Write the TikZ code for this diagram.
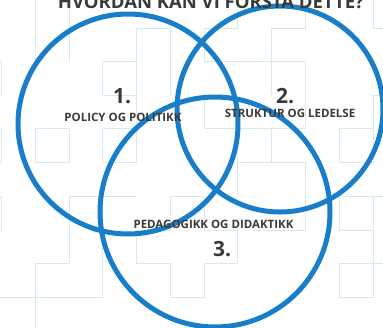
\documentclass[tikz,border=0pt]{standalone}
\usepackage{fontspec}
\setmainfont{Open Sans}
\definecolor{ringblue}{RGB}{24,126,202}
\definecolor{gridteal}{RGB}{212,235,235}
\definecolor{txtgray}{RGB}{58,58,58}
\tikzset{
  ring/.style={draw=ringblue, line width=5pt},
  gridline/.style={draw=gridteal, line width=1pt},
  numlabel/.style={text=txtgray, font=\fontsize{21}{21}\selectfont\bfseries, inner sep=0pt},
  toplabel/.style={text=txtgray, font=\fontsize{11.5}{11.5}\selectfont\bfseries, inner sep=0pt},
  titlelabel/.style={text=txtgray, font=\fontsize{18.5}{18.5}\selectfont\bfseries, inner sep=0pt}
}
\begin{document}
\begin{tikzpicture}[x=1pt, y=-1pt]
\useasboundingbox (0,0) rectangle (383,327);
\clip (0,0) rectangle (383,327);
\fill[white] (0,0) rectangle (383,327);
% background pattern
\draw[gridline] (35,0) -- (35,61.5);
\draw[gridline] (69,0) -- (69,61.5);
\draw[gridline] (0,61.5) -- (1.5,61.5) -- (1.5,95) -- (0,95);
\draw[gridline] (0,128.5) -- (1.5,128.5) -- (1.5,162) -- (0,162);
\draw[gridline] (0,196.5) -- (1.5,196.5) -- (1.5,230) -- (0,230);
\draw[gridline] (102.5,61.5) -- (136.5,61.5) -- (136.5,28) -- (170,28) -- (170,95);
\draw[gridline] (102.5,61.5) -- (102.5,95) -- (136.5,95) -- (136.5,61.5);
\draw[gridline] (237.5,0) -- (237.5,28) -- (204,28) -- (204,61.5) -- (305,61.5);
\draw[gridline] (305,0) -- (305,28) -- (271,28) -- (271,95);
\draw[gridline] (204,95) -- (204,128.5) -- (305,128.5) -- (305,61.5);
\draw[gridline] (373,0) -- (373,28) -- (383,28);
\draw[gridline] (383,95) -- (373,95) -- (373,128.5);
\draw[gridline] (339,128.5) rectangle (373,162);
\draw[gridline] (237.5,128.5) rectangle (271,162);
\draw[gridline] (237.5,196.5) -- (237.5,162) -- (305,162) -- (305,230) -- (253,230);
\draw[gridline] (339,196.5) rectangle (373,230);
\draw[gridline] (339,196.5) -- (383,196.5);
\draw[gridline] (373,230) -- (373,297.5);
\draw[gridline] (339,263.5) rectangle (373,297.5);
\draw[gridline] (373,263.5) -- (383,263.5);
\draw[gridline] (35,128.5) rectangle (69,162);
\draw[gridline] (102.5,128.5) rectangle (136.5,162);
\draw[gridline] (136.5,95) -- (136.5,128.5);
\draw[gridline] (136.5,196.5) -- (69,196.5) -- (69,263.5) -- (35,263.5) -- (35,327);
\draw[gridline] (0,297.5) -- (102.5,297.5) -- (102.5,196.5);
\draw[gridline] (170,196.5) -- (204,196.5) -- (204,230) -- (237.5,230) -- (237.5,263.5) -- (204,263.5) -- (204,297.5) -- (170,297.5) -- (170,263.5) -- (136.5,263.5) -- (136.5,230) -- (170,230) -- cycle;
% circles
\coordinate (c1) at (128,124);
\coordinate (c2) at (280,109);
\coordinate (c3) at (215,212);
\draw[ring] (c1) circle[radius=110];
\draw[ring] (c2) circle[radius=103];
\draw[ring] (c3) circle[radius=115];
% texts
\node[titlelabel, anchor=base] (title) at (211,8) {HVORDAN KAN VI FORSTÅ DETTE?};
\node[numlabel] (n1) at (122,96) {1.};
\node[toplabel] (l1) at (123,117) {POLICY OG POLITIKK};
\node[numlabel] (n2) at (285,96) {2.};
\node[toplabel] (l2) at (290,113) {STRUKTUR OG LEDELSE};
\node[toplabel] (l3) at (213.5,224) {PEDAGOGIKK OG DIDAKTIKK};
\node[numlabel] (n3) at (222,249) {3.};
\end{tikzpicture}
\end{document}
